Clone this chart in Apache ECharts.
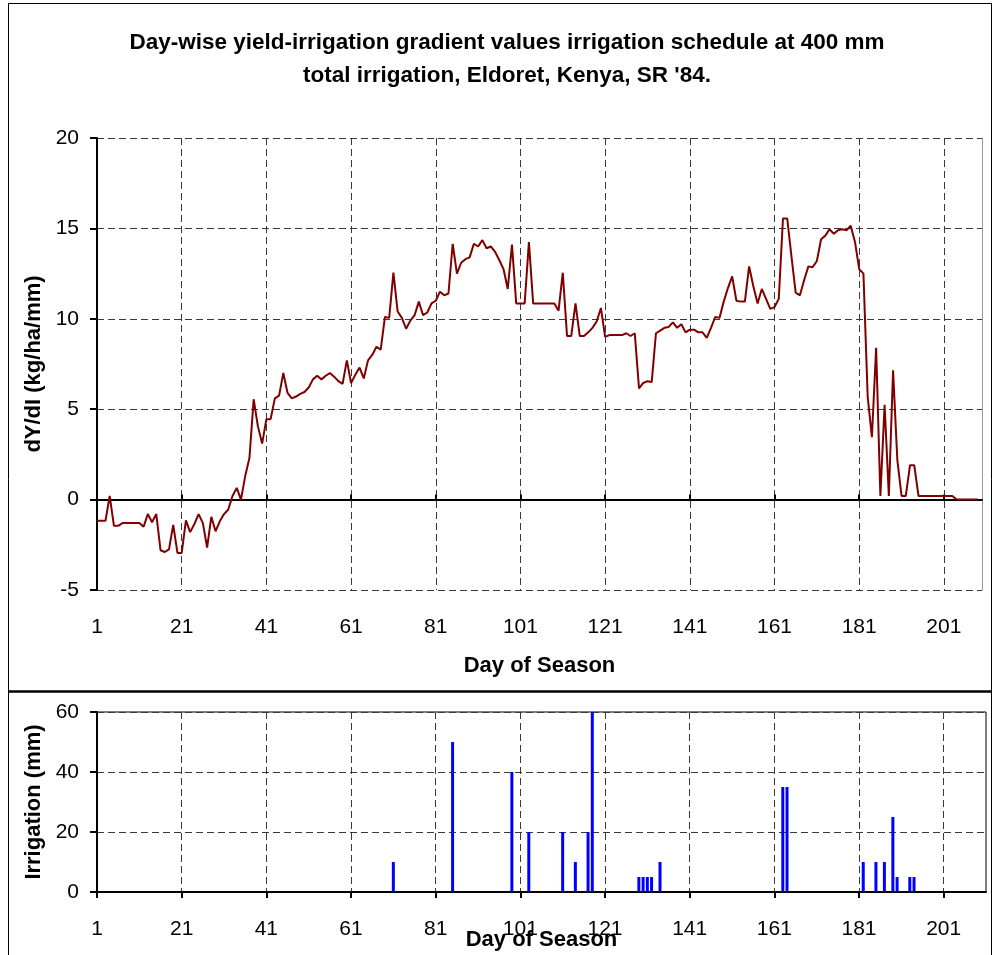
<!DOCTYPE html>
<html>
<head>
<meta charset="utf-8">
<script src="https://cdn.jsdelivr.net/npm/echarts@6/dist/echarts.min.js"></script>
<style>
  html, body { margin: 0; padding: 0; background: #fff; }
  #chart { width: 992px; height: 955px; }
</style>
</head>
<body>
<div id="chart"></div>
<script>
// Season days on the shared category axes (top panel runs to day 210, bottom to 211)
const seasonDays = Array.from({ length: 211 }, (_, i) => i + 1);
const topDays = seasonDays.slice(0, 210);

// Day-wise yield-irrigation gradient dY/dI (kg/ha/mm), days 1..209
const gradient = [
  -1.17, -1.17, -1.17, 0.2, -1.45, -1.45, -1.3, -1.3, -1.3, -1.3,
  -1.3, -1.5, -0.8, -1.25, -0.8, -2.8, -2.9, -2.75, -1.4, -2.95,
  -2.95, -1.15, -1.8, -1.35, -0.8, -1.3, -2.65, -0.95, -1.75, -1.2,
  -0.8, -0.55, 0.2, 0.65, 0.0, 1.3, 2.3, 5.55, 4.05, 3.1,
  4.45, 4.45, 5.6, 5.75, 7.0, 5.9, 5.6, 5.7, 5.85, 5.95,
  6.2, 6.65, 6.85, 6.65, 6.85, 7.0, 6.8, 6.55, 6.4, 7.7,
  6.45, 6.9, 7.3, 6.7, 7.7, 8.0, 8.45, 8.3, 10.1, 10.05,
  12.55, 10.4, 10.05, 9.45, 9.9, 10.2, 10.95, 10.2, 10.35, 10.85,
  11.0, 11.5, 11.3, 11.4, 14.15, 12.5, 13.1, 13.3, 13.4, 14.15,
  14.0, 14.35, 13.9, 14.0, 13.7, 13.25, 12.75, 11.65, 14.1, 10.85,
  10.85, 10.85, 14.25, 10.85, 10.85, 10.85, 10.85, 10.85, 10.85, 10.45,
  12.55, 9.05, 9.05, 10.85, 9.05, 9.05, 9.25, 9.5, 9.85, 10.6,
  9.0, 9.1, 9.1, 9.1, 9.1, 9.2, 9.05, 9.2, 6.15, 6.45,
  6.55, 6.5, 9.2, 9.35, 9.5, 9.55, 9.8, 9.5, 9.7, 9.25,
  9.4, 9.4, 9.25, 9.25, 8.95, 9.5, 10.1, 10.05, 10.95, 11.7,
  12.35, 11.0, 10.95, 10.95, 12.9, 11.8, 10.85, 11.65, 11.1, 10.55,
  10.65, 11.1, 15.55, 15.55, 13.45, 11.45, 11.3, 12.15, 12.9, 12.85,
  13.2, 14.4, 14.6, 14.95, 14.7, 14.9, 14.95, 14.9, 15.15, 14.25,
  12.75, 12.5, 5.7, 3.45, 8.4, 0.2, 5.25, 0.2, 7.15, 2.2,
  0.2, 0.2, 1.9, 1.9, 0.2, 0.2, 0.2, 0.2, 0.2, 0.2,
  0.2, 0.2, 0.2, 0.0, 0.0, 0.0, 0.0, 0.0, 0.0
];

// Irrigation events: day of season and amount applied (mm), 400 mm in total
const irrigationDays = [71, 85, 99, 103, 111, 114, 117, 118, 129, 130, 131, 132, 134,
                        163, 164, 182, 185, 187, 189, 190, 193, 194];
const irrigationMm   = [10, 50, 40, 20, 20, 10, 20, 60, 5, 5, 5, 5, 10,
                        35, 35, 10, 10, 10, 25, 5, 5, 5];

const topTicks = [-5, 0, 5, 10, 15, 20];
const bottomTicks = [0, 20, 40, 60];

const irrigationSeries = seasonDays.map(d => {
  const k = irrigationDays.indexOf(d);
  return k >= 0 ? irrigationMm[k] : null;
});

const FONT = '"Liberation Sans", Arial, sans-serif';
const gridDash = { type: [7, 4], color: '#3a3a3a', width: 1 };
const tickLabel = { fontSize: 21, color: '#000', fontFamily: FONT };
const axisName = { fontSize: 22, fontWeight: 'bold', color: '#000', fontFamily: FONT };

const chart = echarts.init(document.getElementById('chart'), null, { renderer: 'canvas' });

chart.setOption({
  animation: false,
  backgroundColor: '#fff',
  textStyle: { fontFamily: FONT },
  title: {
    text: "Day-wise yield-irrigation gradient values irrigation schedule at 400 mm\ntotal irrigation, Eldoret, Kenya, SR '84.",
    left: 502,
    textAlign: 'center',
    top: 21,
    padding: 5,
    textStyle: { fontSize: 22.5, fontWeight: 'bold', color: '#000', lineHeight: 33, fontFamily: FONT }
  },
  graphic: [
    { type: 'rect', silent: true, z: 100,
      shape: { x: 8.5, y: 3.5, width: 983, height: 960 },
      style: { fill: 'none', stroke: '#000', lineWidth: 1 } },
    { type: 'line', silent: true, z: 100,
      shape: { x1: 8, y1: 691.5, x2: 992, y2: 691.5 },
      style: { stroke: '#000', lineWidth: 2.5 } }
  ],
  grid: [
    { left: 97, top: 138, right: 10, height: 452, outerBoundsMode: 'none' },
    { left: 97, top: 712, right: 6, height: 180, outerBoundsMode: 'none',
      show: true, borderColor: '#000', borderWidth: 1 }
  ],
  xAxis: [
    { // labels, gridlines and title of the upper panel
      type: 'category', gridIndex: 0, data: topDays, boundaryGap: false,
      axisLine: { show: false, onZero: false },
      axisTick: { show: false },
      axisLabel: Object.assign({ interval: 19, margin: 27 }, tickLabel),
      splitLine: { show: true, interval: 19, lineStyle: gridDash },
      name: 'Day of Season', nameLocation: 'middle', nameGap: 65, nameTextStyle: axisName
    },
    { // zero line of the upper panel
      type: 'category', gridIndex: 0, data: topDays, boundaryGap: false,
      axisLine: { show: true, onZero: true, lineStyle: { color: '#000', width: 2 } },
      axisTick: { show: true, interval: 19, length: 5, lineStyle: { color: '#000', width: 2 } },
      axisLabel: { show: false },
      splitLine: { show: false }
    },
    {
      type: 'category', gridIndex: 1, data: seasonDays, boundaryGap: false,
      axisLine: { show: true, onZero: false, lineStyle: { color: '#000', width: 2 } },
      axisTick: { show: true, interval: 19, length: 6, lineStyle: { color: '#000', width: 2 } },
      axisLabel: Object.assign({ interval: 19, margin: 27 }, tickLabel),
      splitLine: { show: true, interval: 19, lineStyle: gridDash },
      name: 'Day of Season', nameLocation: 'middle', nameGap: 37, nameMoveOverlap: false,
      nameTextStyle: axisName
    }
  ],
  yAxis: [
    {
      type: 'value', gridIndex: 0, min: topTicks[0], max: topTicks[topTicks.length - 1], interval: 5,
      axisLine: { show: true, onZero: false, lineStyle: { color: '#000', width: 2 } },
      axisTick: { show: true, length: 7, lineStyle: { color: '#000', width: 2 } },
      axisLabel: Object.assign({ margin: 18 }, tickLabel),
      splitLine: { show: true, lineStyle: gridDash },
      name: 'dY/dI (kg/ha/mm)', nameLocation: 'middle', nameGap: 48, nameRotate: 90, nameTextStyle: axisName
    },
    { // right-hand frame of the upper panel
      type: 'value', gridIndex: 0, position: 'right',
      min: topTicks[0], max: topTicks[topTicks.length - 1], interval: 5,
      axisLine: { show: true, onZero: false, lineStyle: { color: '#999', width: 1 } },
      axisTick: { show: false }, axisLabel: { show: false }, splitLine: { show: false }
    },
    {
      type: 'value', gridIndex: 1, min: bottomTicks[0], max: bottomTicks[bottomTicks.length - 1], interval: 20,
      axisLine: { show: true, onZero: false, lineStyle: { color: '#000', width: 2 } },
      axisTick: { show: true, length: 7, lineStyle: { color: '#000', width: 2 } },
      axisLabel: Object.assign({ margin: 18 }, tickLabel),
      splitLine: { show: true, lineStyle: gridDash },
      name: 'Irrigation (mm)', nameLocation: 'middle', nameGap: 52, nameRotate: 90, nameTextStyle: axisName
    }
  ],
  series: [
    {
      name: 'dY/dI', type: 'line', xAxisIndex: 0, yAxisIndex: 0,
      data: gradient, showSymbol: false, symbol: 'none', z: 5,
      lineStyle: { color: '#800000', width: 2 }, itemStyle: { color: '#800000' }
    },
    {
      name: 'Irrigation', type: 'bar', xAxisIndex: 2, yAxisIndex: 2,
      data: irrigationSeries, barWidth: 3, z: 5,
      itemStyle: { color: '#0000ff' }
    }
  ]
});
</script>
</body>
</html>
